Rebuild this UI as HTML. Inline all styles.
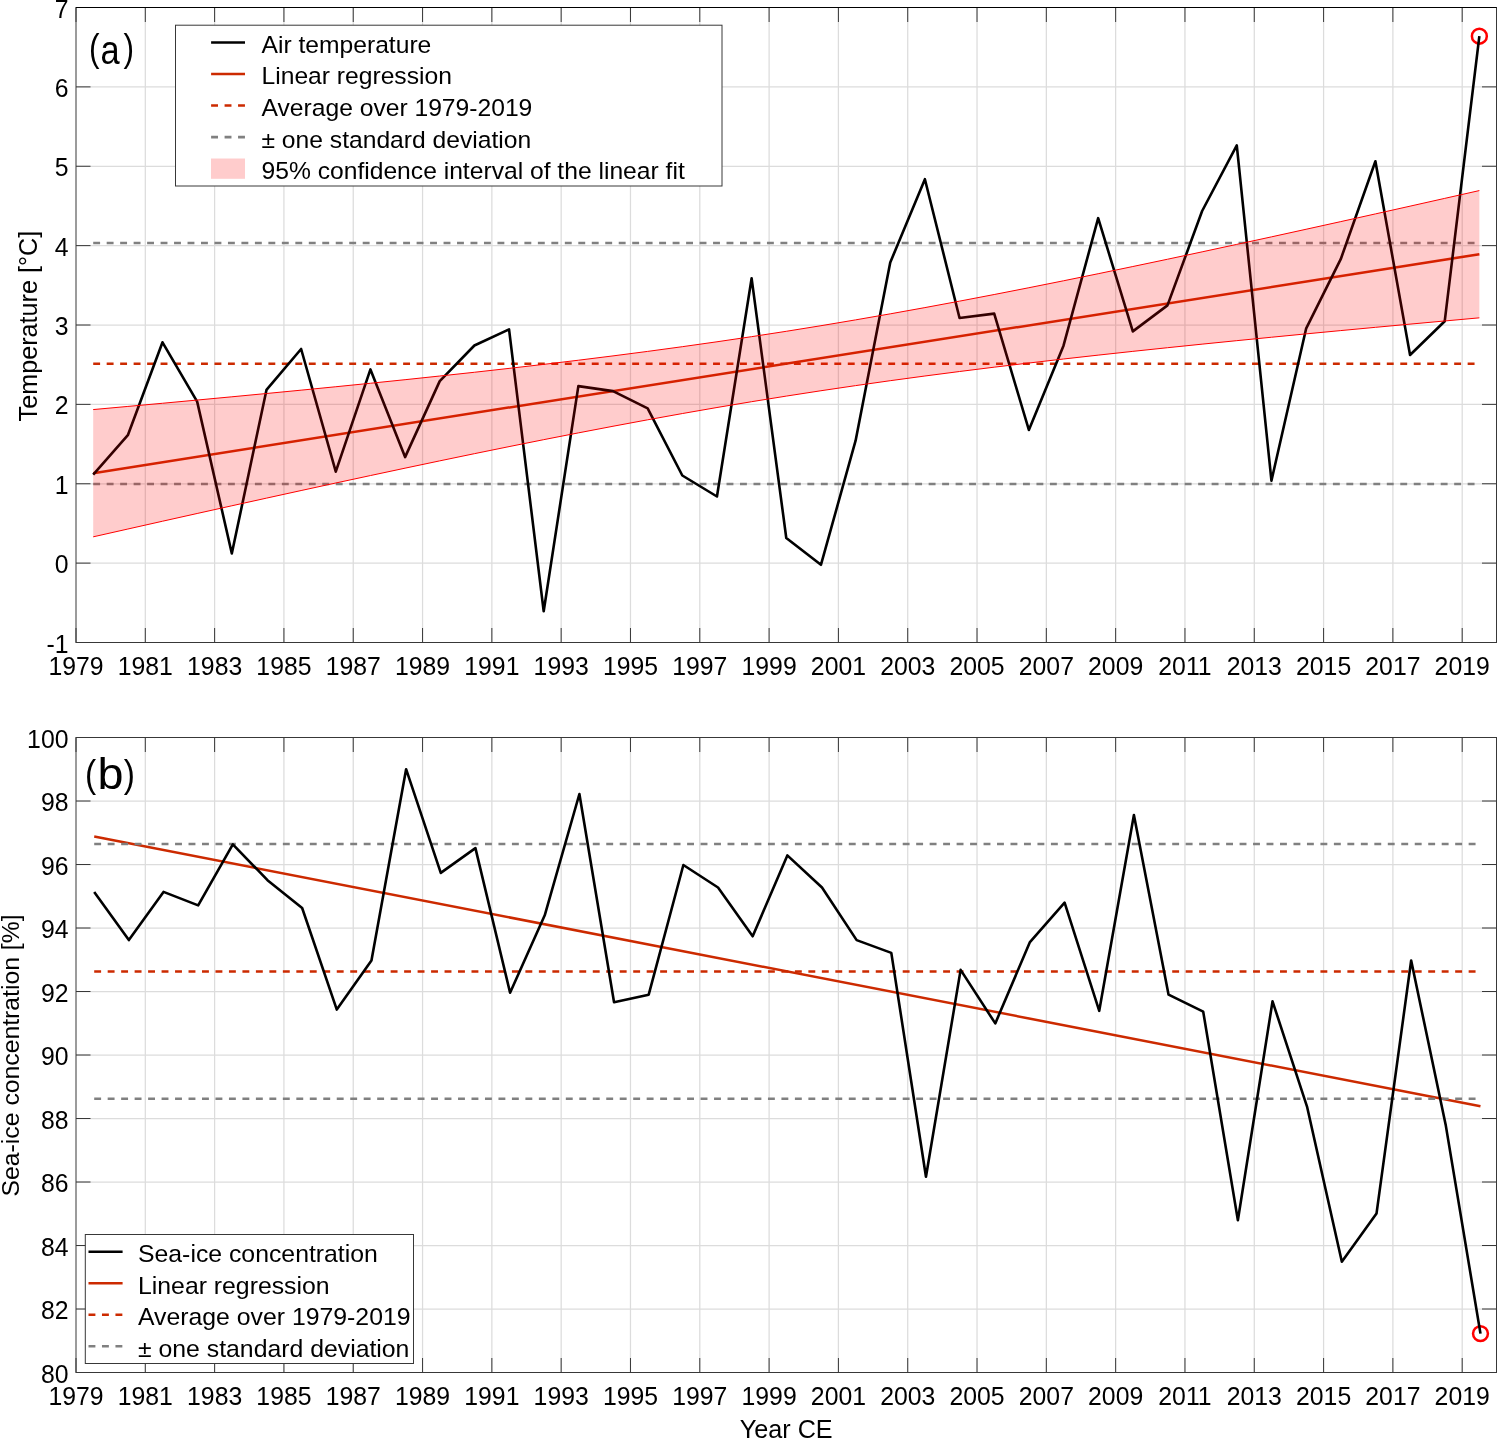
<!DOCTYPE html>
<html><head><meta charset="utf-8"><style>
html,body{margin:0;padding:0;background:#fff;}
svg{display:block;will-change:transform;}
</style></head><body>
<svg width="1497" height="1438" viewBox="0 0 1497 1438">
<rect width="1497" height="1438" fill="#fff"/>
<line x1="145.31" y1="7.5" x2="145.31" y2="642.5" stroke="#dcdcdc" stroke-width="1.25"/>
<line x1="214.62" y1="7.5" x2="214.62" y2="642.5" stroke="#dcdcdc" stroke-width="1.25"/>
<line x1="283.93" y1="7.5" x2="283.93" y2="642.5" stroke="#dcdcdc" stroke-width="1.25"/>
<line x1="353.24" y1="7.5" x2="353.24" y2="642.5" stroke="#dcdcdc" stroke-width="1.25"/>
<line x1="422.55" y1="7.5" x2="422.55" y2="642.5" stroke="#dcdcdc" stroke-width="1.25"/>
<line x1="491.86" y1="7.5" x2="491.86" y2="642.5" stroke="#dcdcdc" stroke-width="1.25"/>
<line x1="561.17" y1="7.5" x2="561.17" y2="642.5" stroke="#dcdcdc" stroke-width="1.25"/>
<line x1="630.48" y1="7.5" x2="630.48" y2="642.5" stroke="#dcdcdc" stroke-width="1.25"/>
<line x1="699.79" y1="7.5" x2="699.79" y2="642.5" stroke="#dcdcdc" stroke-width="1.25"/>
<line x1="769.10" y1="7.5" x2="769.10" y2="642.5" stroke="#dcdcdc" stroke-width="1.25"/>
<line x1="838.41" y1="7.5" x2="838.41" y2="642.5" stroke="#dcdcdc" stroke-width="1.25"/>
<line x1="907.72" y1="7.5" x2="907.72" y2="642.5" stroke="#dcdcdc" stroke-width="1.25"/>
<line x1="977.03" y1="7.5" x2="977.03" y2="642.5" stroke="#dcdcdc" stroke-width="1.25"/>
<line x1="1046.34" y1="7.5" x2="1046.34" y2="642.5" stroke="#dcdcdc" stroke-width="1.25"/>
<line x1="1115.65" y1="7.5" x2="1115.65" y2="642.5" stroke="#dcdcdc" stroke-width="1.25"/>
<line x1="1184.96" y1="7.5" x2="1184.96" y2="642.5" stroke="#dcdcdc" stroke-width="1.25"/>
<line x1="1254.27" y1="7.5" x2="1254.27" y2="642.5" stroke="#dcdcdc" stroke-width="1.25"/>
<line x1="1323.58" y1="7.5" x2="1323.58" y2="642.5" stroke="#dcdcdc" stroke-width="1.25"/>
<line x1="1392.89" y1="7.5" x2="1392.89" y2="642.5" stroke="#dcdcdc" stroke-width="1.25"/>
<line x1="1462.20" y1="7.5" x2="1462.20" y2="642.5" stroke="#dcdcdc" stroke-width="1.25"/>
<line x1="76.0" y1="563.12" x2="1496.5" y2="563.12" stroke="#dcdcdc" stroke-width="1.25"/>
<line x1="76.0" y1="483.75" x2="1496.5" y2="483.75" stroke="#dcdcdc" stroke-width="1.25"/>
<line x1="76.0" y1="404.38" x2="1496.5" y2="404.38" stroke="#dcdcdc" stroke-width="1.25"/>
<line x1="76.0" y1="325.00" x2="1496.5" y2="325.00" stroke="#dcdcdc" stroke-width="1.25"/>
<line x1="76.0" y1="245.62" x2="1496.5" y2="245.62" stroke="#dcdcdc" stroke-width="1.25"/>
<line x1="76.0" y1="166.25" x2="1496.5" y2="166.25" stroke="#dcdcdc" stroke-width="1.25"/>
<line x1="76.0" y1="86.88" x2="1496.5" y2="86.88" stroke="#dcdcdc" stroke-width="1.25"/>
<circle cx="1479.36" cy="36.2" r="7.45" fill="none" stroke="#ff0000" stroke-width="2.5"/>
<line x1="93.20" y1="473.2" x2="1479.36" y2="254.2" stroke="#cc2a00" stroke-width="2.5"/>
<line x1="93.20" y1="363.7" x2="1479.36" y2="363.7" stroke="#cc2a00" stroke-width="2.5" stroke-dasharray="6.9 6.575"/>
<line x1="93.20" y1="242.9" x2="1479.36" y2="242.9" stroke="#808080" stroke-width="2.5" stroke-dasharray="6.9 6.575"/>
<line x1="93.20" y1="484.1" x2="1479.36" y2="484.1" stroke="#808080" stroke-width="2.5" stroke-dasharray="6.9 6.575"/>
<polyline points="93.20,474.60 127.85,435.20 162.51,342.30 197.16,401.60 231.82,553.50 266.47,389.90 301.12,349.00 335.78,471.70 370.43,369.40 405.09,457.10 439.74,381.10 474.39,345.50 509.05,329.40 543.70,611.30 578.36,386.10 613.01,391.10 647.66,408.30 682.32,475.50 716.97,496.50 751.63,278.30 786.28,538.00 820.93,564.80 855.59,440.70 890.24,262.50 924.90,179.20 959.55,318.00 994.20,313.60 1028.86,429.90 1063.51,345.70 1098.17,218.20 1132.82,331.40 1167.47,305.40 1202.13,211.00 1236.78,145.30 1271.44,480.70 1306.09,328.70 1340.74,259.20 1375.40,161.30 1410.05,355.00 1444.71,321.30 1479.36,36.20" fill="none" stroke="#000" stroke-width="2.6" stroke-linejoin="round"/>
<path d="M93.20,409.57 L127.85,406.43 L162.51,403.27 L197.16,400.06 L231.82,396.81 L266.47,393.51 L301.12,390.16 L335.78,386.74 L370.43,383.25 L405.09,379.69 L439.74,376.03 L474.39,372.27 L509.05,368.39 L543.70,364.38 L578.36,360.22 L613.01,355.90 L647.66,351.40 L682.32,346.70 L716.97,341.79 L751.63,336.66 L786.28,331.30 L820.93,325.71 L855.59,319.89 L890.24,313.85 L924.90,307.60 L959.55,301.15 L994.20,294.52 L1028.86,287.73 L1063.51,280.79 L1098.17,273.72 L1132.82,266.53 L1167.47,259.24 L1202.13,251.85 L1236.78,244.39 L1271.44,236.86 L1306.09,229.26 L1340.74,221.61 L1375.40,213.91 L1410.05,206.17 L1444.71,198.38 L1479.36,190.57 L1479.36,317.83 L1444.71,320.97 L1410.05,324.13 L1375.40,327.34 L1340.74,330.59 L1306.09,333.89 L1271.44,337.24 L1236.78,340.66 L1202.13,344.15 L1167.47,347.71 L1132.82,351.37 L1098.17,355.13 L1063.51,359.01 L1028.86,363.02 L994.20,367.18 L959.55,371.50 L924.90,376.00 L890.24,380.70 L855.59,385.61 L820.93,390.74 L786.28,396.10 L751.63,401.69 L716.97,407.51 L682.32,413.55 L647.66,419.80 L613.01,426.25 L578.36,432.88 L543.70,439.67 L509.05,446.61 L474.39,453.68 L439.74,460.87 L405.09,468.16 L370.43,475.55 L335.78,483.01 L301.12,490.54 L266.47,498.14 L231.82,505.79 L197.16,513.49 L162.51,521.23 L127.85,529.02 L93.20,536.83 Z" fill="#ff0000" fill-opacity="0.2" stroke="none"/>
<polyline points="93.20,409.57 127.85,406.43 162.51,403.27 197.16,400.06 231.82,396.81 266.47,393.51 301.12,390.16 335.78,386.74 370.43,383.25 405.09,379.69 439.74,376.03 474.39,372.27 509.05,368.39 543.70,364.38 578.36,360.22 613.01,355.90 647.66,351.40 682.32,346.70 716.97,341.79 751.63,336.66 786.28,331.30 820.93,325.71 855.59,319.89 890.24,313.85 924.90,307.60 959.55,301.15 994.20,294.52 1028.86,287.73 1063.51,280.79 1098.17,273.72 1132.82,266.53 1167.47,259.24 1202.13,251.85 1236.78,244.39 1271.44,236.86 1306.09,229.26 1340.74,221.61 1375.40,213.91 1410.05,206.17 1444.71,198.38 1479.36,190.57" fill="none" stroke="#ff0000" stroke-width="1"/>
<polyline points="93.20,536.83 127.85,529.02 162.51,521.23 197.16,513.49 231.82,505.79 266.47,498.14 301.12,490.54 335.78,483.01 370.43,475.55 405.09,468.16 439.74,460.87 474.39,453.68 509.05,446.61 543.70,439.67 578.36,432.88 613.01,426.25 647.66,419.80 682.32,413.55 716.97,407.51 751.63,401.69 786.28,396.10 820.93,390.74 855.59,385.61 890.24,380.70 924.90,376.00 959.55,371.50 994.20,367.18 1028.86,363.02 1063.51,359.01 1098.17,355.13 1132.82,351.37 1167.47,347.71 1202.13,344.15 1236.78,340.66 1271.44,337.24 1306.09,333.89 1340.74,330.59 1375.40,327.34 1410.05,324.13 1444.71,320.97 1479.36,317.83" fill="none" stroke="#ff0000" stroke-width="1"/>
<rect x="76.0" y="7.5" width="1420.5" height="635.0" fill="none" stroke="#383838" stroke-width="1"/>
<line x1="76.00" y1="642.5" x2="76.00" y2="628.0" stroke="#383838" stroke-width="1"/>
<line x1="76.00" y1="7.5" x2="76.00" y2="22.0" stroke="#383838" stroke-width="1"/>
<text transform="translate(76.00,675.00) scale(1,1.025)" text-anchor="middle" font-family="Liberation Sans, sans-serif" font-size="24.8">1979</text>
<line x1="145.31" y1="642.5" x2="145.31" y2="628.0" stroke="#383838" stroke-width="1"/>
<line x1="145.31" y1="7.5" x2="145.31" y2="22.0" stroke="#383838" stroke-width="1"/>
<text transform="translate(145.31,675.00) scale(1,1.025)" text-anchor="middle" font-family="Liberation Sans, sans-serif" font-size="24.8">1981</text>
<line x1="214.62" y1="642.5" x2="214.62" y2="628.0" stroke="#383838" stroke-width="1"/>
<line x1="214.62" y1="7.5" x2="214.62" y2="22.0" stroke="#383838" stroke-width="1"/>
<text transform="translate(214.62,675.00) scale(1,1.025)" text-anchor="middle" font-family="Liberation Sans, sans-serif" font-size="24.8">1983</text>
<line x1="283.93" y1="642.5" x2="283.93" y2="628.0" stroke="#383838" stroke-width="1"/>
<line x1="283.93" y1="7.5" x2="283.93" y2="22.0" stroke="#383838" stroke-width="1"/>
<text transform="translate(283.93,675.00) scale(1,1.025)" text-anchor="middle" font-family="Liberation Sans, sans-serif" font-size="24.8">1985</text>
<line x1="353.24" y1="642.5" x2="353.24" y2="628.0" stroke="#383838" stroke-width="1"/>
<line x1="353.24" y1="7.5" x2="353.24" y2="22.0" stroke="#383838" stroke-width="1"/>
<text transform="translate(353.24,675.00) scale(1,1.025)" text-anchor="middle" font-family="Liberation Sans, sans-serif" font-size="24.8">1987</text>
<line x1="422.55" y1="642.5" x2="422.55" y2="628.0" stroke="#383838" stroke-width="1"/>
<line x1="422.55" y1="7.5" x2="422.55" y2="22.0" stroke="#383838" stroke-width="1"/>
<text transform="translate(422.55,675.00) scale(1,1.025)" text-anchor="middle" font-family="Liberation Sans, sans-serif" font-size="24.8">1989</text>
<line x1="491.86" y1="642.5" x2="491.86" y2="628.0" stroke="#383838" stroke-width="1"/>
<line x1="491.86" y1="7.5" x2="491.86" y2="22.0" stroke="#383838" stroke-width="1"/>
<text transform="translate(491.86,675.00) scale(1,1.025)" text-anchor="middle" font-family="Liberation Sans, sans-serif" font-size="24.8">1991</text>
<line x1="561.17" y1="642.5" x2="561.17" y2="628.0" stroke="#383838" stroke-width="1"/>
<line x1="561.17" y1="7.5" x2="561.17" y2="22.0" stroke="#383838" stroke-width="1"/>
<text transform="translate(561.17,675.00) scale(1,1.025)" text-anchor="middle" font-family="Liberation Sans, sans-serif" font-size="24.8">1993</text>
<line x1="630.48" y1="642.5" x2="630.48" y2="628.0" stroke="#383838" stroke-width="1"/>
<line x1="630.48" y1="7.5" x2="630.48" y2="22.0" stroke="#383838" stroke-width="1"/>
<text transform="translate(630.48,675.00) scale(1,1.025)" text-anchor="middle" font-family="Liberation Sans, sans-serif" font-size="24.8">1995</text>
<line x1="699.79" y1="642.5" x2="699.79" y2="628.0" stroke="#383838" stroke-width="1"/>
<line x1="699.79" y1="7.5" x2="699.79" y2="22.0" stroke="#383838" stroke-width="1"/>
<text transform="translate(699.79,675.00) scale(1,1.025)" text-anchor="middle" font-family="Liberation Sans, sans-serif" font-size="24.8">1997</text>
<line x1="769.10" y1="642.5" x2="769.10" y2="628.0" stroke="#383838" stroke-width="1"/>
<line x1="769.10" y1="7.5" x2="769.10" y2="22.0" stroke="#383838" stroke-width="1"/>
<text transform="translate(769.10,675.00) scale(1,1.025)" text-anchor="middle" font-family="Liberation Sans, sans-serif" font-size="24.8">1999</text>
<line x1="838.41" y1="642.5" x2="838.41" y2="628.0" stroke="#383838" stroke-width="1"/>
<line x1="838.41" y1="7.5" x2="838.41" y2="22.0" stroke="#383838" stroke-width="1"/>
<text transform="translate(838.41,675.00) scale(1,1.025)" text-anchor="middle" font-family="Liberation Sans, sans-serif" font-size="24.8">2001</text>
<line x1="907.72" y1="642.5" x2="907.72" y2="628.0" stroke="#383838" stroke-width="1"/>
<line x1="907.72" y1="7.5" x2="907.72" y2="22.0" stroke="#383838" stroke-width="1"/>
<text transform="translate(907.72,675.00) scale(1,1.025)" text-anchor="middle" font-family="Liberation Sans, sans-serif" font-size="24.8">2003</text>
<line x1="977.03" y1="642.5" x2="977.03" y2="628.0" stroke="#383838" stroke-width="1"/>
<line x1="977.03" y1="7.5" x2="977.03" y2="22.0" stroke="#383838" stroke-width="1"/>
<text transform="translate(977.03,675.00) scale(1,1.025)" text-anchor="middle" font-family="Liberation Sans, sans-serif" font-size="24.8">2005</text>
<line x1="1046.34" y1="642.5" x2="1046.34" y2="628.0" stroke="#383838" stroke-width="1"/>
<line x1="1046.34" y1="7.5" x2="1046.34" y2="22.0" stroke="#383838" stroke-width="1"/>
<text transform="translate(1046.34,675.00) scale(1,1.025)" text-anchor="middle" font-family="Liberation Sans, sans-serif" font-size="24.8">2007</text>
<line x1="1115.65" y1="642.5" x2="1115.65" y2="628.0" stroke="#383838" stroke-width="1"/>
<line x1="1115.65" y1="7.5" x2="1115.65" y2="22.0" stroke="#383838" stroke-width="1"/>
<text transform="translate(1115.65,675.00) scale(1,1.025)" text-anchor="middle" font-family="Liberation Sans, sans-serif" font-size="24.8">2009</text>
<line x1="1184.96" y1="642.5" x2="1184.96" y2="628.0" stroke="#383838" stroke-width="1"/>
<line x1="1184.96" y1="7.5" x2="1184.96" y2="22.0" stroke="#383838" stroke-width="1"/>
<text transform="translate(1184.96,675.00) scale(1,1.025)" text-anchor="middle" font-family="Liberation Sans, sans-serif" font-size="24.8">2011</text>
<line x1="1254.27" y1="642.5" x2="1254.27" y2="628.0" stroke="#383838" stroke-width="1"/>
<line x1="1254.27" y1="7.5" x2="1254.27" y2="22.0" stroke="#383838" stroke-width="1"/>
<text transform="translate(1254.27,675.00) scale(1,1.025)" text-anchor="middle" font-family="Liberation Sans, sans-serif" font-size="24.8">2013</text>
<line x1="1323.58" y1="642.5" x2="1323.58" y2="628.0" stroke="#383838" stroke-width="1"/>
<line x1="1323.58" y1="7.5" x2="1323.58" y2="22.0" stroke="#383838" stroke-width="1"/>
<text transform="translate(1323.58,675.00) scale(1,1.025)" text-anchor="middle" font-family="Liberation Sans, sans-serif" font-size="24.8">2015</text>
<line x1="1392.89" y1="642.5" x2="1392.89" y2="628.0" stroke="#383838" stroke-width="1"/>
<line x1="1392.89" y1="7.5" x2="1392.89" y2="22.0" stroke="#383838" stroke-width="1"/>
<text transform="translate(1392.89,675.00) scale(1,1.025)" text-anchor="middle" font-family="Liberation Sans, sans-serif" font-size="24.8">2017</text>
<line x1="1462.20" y1="642.5" x2="1462.20" y2="628.0" stroke="#383838" stroke-width="1"/>
<line x1="1462.20" y1="7.5" x2="1462.20" y2="22.0" stroke="#383838" stroke-width="1"/>
<text transform="translate(1462.20,675.00) scale(1,1.025)" text-anchor="middle" font-family="Liberation Sans, sans-serif" font-size="24.8">2019</text>
<line x1="76.0" y1="642.50" x2="90.5" y2="642.50" stroke="#383838" stroke-width="1"/>
<line x1="1496.5" y1="642.50" x2="1482.0" y2="642.50" stroke="#383838" stroke-width="1"/>
<text transform="translate(68.5,652.50) scale(1,1.025)" text-anchor="end" font-family="Liberation Sans, sans-serif" font-size="24.8">-1</text>
<line x1="76.0" y1="563.12" x2="90.5" y2="563.12" stroke="#383838" stroke-width="1"/>
<line x1="1496.5" y1="563.12" x2="1482.0" y2="563.12" stroke="#383838" stroke-width="1"/>
<text transform="translate(68.5,573.12) scale(1,1.025)" text-anchor="end" font-family="Liberation Sans, sans-serif" font-size="24.8">0</text>
<line x1="76.0" y1="483.75" x2="90.5" y2="483.75" stroke="#383838" stroke-width="1"/>
<line x1="1496.5" y1="483.75" x2="1482.0" y2="483.75" stroke="#383838" stroke-width="1"/>
<text transform="translate(68.5,493.75) scale(1,1.025)" text-anchor="end" font-family="Liberation Sans, sans-serif" font-size="24.8">1</text>
<line x1="76.0" y1="404.38" x2="90.5" y2="404.38" stroke="#383838" stroke-width="1"/>
<line x1="1496.5" y1="404.38" x2="1482.0" y2="404.38" stroke="#383838" stroke-width="1"/>
<text transform="translate(68.5,414.38) scale(1,1.025)" text-anchor="end" font-family="Liberation Sans, sans-serif" font-size="24.8">2</text>
<line x1="76.0" y1="325.00" x2="90.5" y2="325.00" stroke="#383838" stroke-width="1"/>
<line x1="1496.5" y1="325.00" x2="1482.0" y2="325.00" stroke="#383838" stroke-width="1"/>
<text transform="translate(68.5,335.00) scale(1,1.025)" text-anchor="end" font-family="Liberation Sans, sans-serif" font-size="24.8">3</text>
<line x1="76.0" y1="245.62" x2="90.5" y2="245.62" stroke="#383838" stroke-width="1"/>
<line x1="1496.5" y1="245.62" x2="1482.0" y2="245.62" stroke="#383838" stroke-width="1"/>
<text transform="translate(68.5,255.62) scale(1,1.025)" text-anchor="end" font-family="Liberation Sans, sans-serif" font-size="24.8">4</text>
<line x1="76.0" y1="166.25" x2="90.5" y2="166.25" stroke="#383838" stroke-width="1"/>
<line x1="1496.5" y1="166.25" x2="1482.0" y2="166.25" stroke="#383838" stroke-width="1"/>
<text transform="translate(68.5,176.25) scale(1,1.025)" text-anchor="end" font-family="Liberation Sans, sans-serif" font-size="24.8">5</text>
<line x1="76.0" y1="86.88" x2="90.5" y2="86.88" stroke="#383838" stroke-width="1"/>
<line x1="1496.5" y1="86.88" x2="1482.0" y2="86.88" stroke="#383838" stroke-width="1"/>
<text transform="translate(68.5,96.88) scale(1,1.025)" text-anchor="end" font-family="Liberation Sans, sans-serif" font-size="24.8">6</text>
<line x1="76.0" y1="7.50" x2="90.5" y2="7.50" stroke="#383838" stroke-width="1"/>
<line x1="1496.5" y1="7.50" x2="1482.0" y2="7.50" stroke="#383838" stroke-width="1"/>
<text transform="translate(68.5,17.50) scale(1,1.025)" text-anchor="end" font-family="Liberation Sans, sans-serif" font-size="24.8">7</text>
<line x1="145.31" y1="737.5" x2="145.31" y2="1372.5" stroke="#dcdcdc" stroke-width="1.25"/>
<line x1="214.62" y1="737.5" x2="214.62" y2="1372.5" stroke="#dcdcdc" stroke-width="1.25"/>
<line x1="283.93" y1="737.5" x2="283.93" y2="1372.5" stroke="#dcdcdc" stroke-width="1.25"/>
<line x1="353.24" y1="737.5" x2="353.24" y2="1372.5" stroke="#dcdcdc" stroke-width="1.25"/>
<line x1="422.55" y1="737.5" x2="422.55" y2="1372.5" stroke="#dcdcdc" stroke-width="1.25"/>
<line x1="491.86" y1="737.5" x2="491.86" y2="1372.5" stroke="#dcdcdc" stroke-width="1.25"/>
<line x1="561.17" y1="737.5" x2="561.17" y2="1372.5" stroke="#dcdcdc" stroke-width="1.25"/>
<line x1="630.48" y1="737.5" x2="630.48" y2="1372.5" stroke="#dcdcdc" stroke-width="1.25"/>
<line x1="699.79" y1="737.5" x2="699.79" y2="1372.5" stroke="#dcdcdc" stroke-width="1.25"/>
<line x1="769.10" y1="737.5" x2="769.10" y2="1372.5" stroke="#dcdcdc" stroke-width="1.25"/>
<line x1="838.41" y1="737.5" x2="838.41" y2="1372.5" stroke="#dcdcdc" stroke-width="1.25"/>
<line x1="907.72" y1="737.5" x2="907.72" y2="1372.5" stroke="#dcdcdc" stroke-width="1.25"/>
<line x1="977.03" y1="737.5" x2="977.03" y2="1372.5" stroke="#dcdcdc" stroke-width="1.25"/>
<line x1="1046.34" y1="737.5" x2="1046.34" y2="1372.5" stroke="#dcdcdc" stroke-width="1.25"/>
<line x1="1115.65" y1="737.5" x2="1115.65" y2="1372.5" stroke="#dcdcdc" stroke-width="1.25"/>
<line x1="1184.96" y1="737.5" x2="1184.96" y2="1372.5" stroke="#dcdcdc" stroke-width="1.25"/>
<line x1="1254.27" y1="737.5" x2="1254.27" y2="1372.5" stroke="#dcdcdc" stroke-width="1.25"/>
<line x1="1323.58" y1="737.5" x2="1323.58" y2="1372.5" stroke="#dcdcdc" stroke-width="1.25"/>
<line x1="1392.89" y1="737.5" x2="1392.89" y2="1372.5" stroke="#dcdcdc" stroke-width="1.25"/>
<line x1="1462.20" y1="737.5" x2="1462.20" y2="1372.5" stroke="#dcdcdc" stroke-width="1.25"/>
<line x1="76.0" y1="1309.00" x2="1496.5" y2="1309.00" stroke="#dcdcdc" stroke-width="1.25"/>
<line x1="76.0" y1="1245.50" x2="1496.5" y2="1245.50" stroke="#dcdcdc" stroke-width="1.25"/>
<line x1="76.0" y1="1182.00" x2="1496.5" y2="1182.00" stroke="#dcdcdc" stroke-width="1.25"/>
<line x1="76.0" y1="1118.50" x2="1496.5" y2="1118.50" stroke="#dcdcdc" stroke-width="1.25"/>
<line x1="76.0" y1="1055.00" x2="1496.5" y2="1055.00" stroke="#dcdcdc" stroke-width="1.25"/>
<line x1="76.0" y1="991.50" x2="1496.5" y2="991.50" stroke="#dcdcdc" stroke-width="1.25"/>
<line x1="76.0" y1="928.00" x2="1496.5" y2="928.00" stroke="#dcdcdc" stroke-width="1.25"/>
<line x1="76.0" y1="864.50" x2="1496.5" y2="864.50" stroke="#dcdcdc" stroke-width="1.25"/>
<line x1="76.0" y1="801.00" x2="1496.5" y2="801.00" stroke="#dcdcdc" stroke-width="1.25"/>
<circle cx="1480.48" cy="1333.6" r="7.45" fill="none" stroke="#ff0000" stroke-width="2.5"/>
<line x1="94.20" y1="836.6" x2="1480.48" y2="1106.3" stroke="#cc2a00" stroke-width="2.5"/>
<line x1="94.20" y1="971.4" x2="1480.48" y2="971.4" stroke="#cc2a00" stroke-width="2.5" stroke-dasharray="6.9 6.575"/>
<line x1="94.20" y1="844.0" x2="1480.48" y2="844.0" stroke="#808080" stroke-width="2.5" stroke-dasharray="6.9 6.575"/>
<line x1="94.20" y1="1098.7" x2="1480.48" y2="1098.7" stroke="#808080" stroke-width="2.5" stroke-dasharray="6.9 6.575"/>
<polyline points="94.20,891.90 128.86,940.10 163.51,891.90 198.17,905.40 232.83,844.30 267.48,880.20 302.14,908.00 336.80,1009.60 371.46,960.60 406.11,769.20 440.77,872.90 475.43,848.10 510.08,992.70 544.74,915.30 579.40,794.00 614.05,1002.30 648.71,994.70 683.37,865.00 718.03,887.50 752.68,936.30 787.34,855.40 822.00,887.50 856.65,940.10 891.31,952.90 925.97,1176.70 960.62,969.90 995.28,1023.40 1029.94,942.10 1064.60,902.70 1099.25,1010.80 1133.91,815.10 1168.57,994.70 1203.22,1011.70 1237.88,1220.20 1272.54,1001.30 1307.19,1107.20 1341.85,1261.70 1376.51,1213.60 1411.17,960.50 1445.82,1125.60 1480.48,1333.60" fill="none" stroke="#000" stroke-width="2.6" stroke-linejoin="round"/>
<rect x="76.0" y="737.5" width="1420.5" height="635.0" fill="none" stroke="#383838" stroke-width="1"/>
<line x1="76.00" y1="1372.5" x2="76.00" y2="1358.0" stroke="#383838" stroke-width="1"/>
<line x1="76.00" y1="737.5" x2="76.00" y2="752.0" stroke="#383838" stroke-width="1"/>
<text transform="translate(76.00,1405.00) scale(1,1.025)" text-anchor="middle" font-family="Liberation Sans, sans-serif" font-size="24.8">1979</text>
<line x1="145.31" y1="1372.5" x2="145.31" y2="1358.0" stroke="#383838" stroke-width="1"/>
<line x1="145.31" y1="737.5" x2="145.31" y2="752.0" stroke="#383838" stroke-width="1"/>
<text transform="translate(145.31,1405.00) scale(1,1.025)" text-anchor="middle" font-family="Liberation Sans, sans-serif" font-size="24.8">1981</text>
<line x1="214.62" y1="1372.5" x2="214.62" y2="1358.0" stroke="#383838" stroke-width="1"/>
<line x1="214.62" y1="737.5" x2="214.62" y2="752.0" stroke="#383838" stroke-width="1"/>
<text transform="translate(214.62,1405.00) scale(1,1.025)" text-anchor="middle" font-family="Liberation Sans, sans-serif" font-size="24.8">1983</text>
<line x1="283.93" y1="1372.5" x2="283.93" y2="1358.0" stroke="#383838" stroke-width="1"/>
<line x1="283.93" y1="737.5" x2="283.93" y2="752.0" stroke="#383838" stroke-width="1"/>
<text transform="translate(283.93,1405.00) scale(1,1.025)" text-anchor="middle" font-family="Liberation Sans, sans-serif" font-size="24.8">1985</text>
<line x1="353.24" y1="1372.5" x2="353.24" y2="1358.0" stroke="#383838" stroke-width="1"/>
<line x1="353.24" y1="737.5" x2="353.24" y2="752.0" stroke="#383838" stroke-width="1"/>
<text transform="translate(353.24,1405.00) scale(1,1.025)" text-anchor="middle" font-family="Liberation Sans, sans-serif" font-size="24.8">1987</text>
<line x1="422.55" y1="1372.5" x2="422.55" y2="1358.0" stroke="#383838" stroke-width="1"/>
<line x1="422.55" y1="737.5" x2="422.55" y2="752.0" stroke="#383838" stroke-width="1"/>
<text transform="translate(422.55,1405.00) scale(1,1.025)" text-anchor="middle" font-family="Liberation Sans, sans-serif" font-size="24.8">1989</text>
<line x1="491.86" y1="1372.5" x2="491.86" y2="1358.0" stroke="#383838" stroke-width="1"/>
<line x1="491.86" y1="737.5" x2="491.86" y2="752.0" stroke="#383838" stroke-width="1"/>
<text transform="translate(491.86,1405.00) scale(1,1.025)" text-anchor="middle" font-family="Liberation Sans, sans-serif" font-size="24.8">1991</text>
<line x1="561.17" y1="1372.5" x2="561.17" y2="1358.0" stroke="#383838" stroke-width="1"/>
<line x1="561.17" y1="737.5" x2="561.17" y2="752.0" stroke="#383838" stroke-width="1"/>
<text transform="translate(561.17,1405.00) scale(1,1.025)" text-anchor="middle" font-family="Liberation Sans, sans-serif" font-size="24.8">1993</text>
<line x1="630.48" y1="1372.5" x2="630.48" y2="1358.0" stroke="#383838" stroke-width="1"/>
<line x1="630.48" y1="737.5" x2="630.48" y2="752.0" stroke="#383838" stroke-width="1"/>
<text transform="translate(630.48,1405.00) scale(1,1.025)" text-anchor="middle" font-family="Liberation Sans, sans-serif" font-size="24.8">1995</text>
<line x1="699.79" y1="1372.5" x2="699.79" y2="1358.0" stroke="#383838" stroke-width="1"/>
<line x1="699.79" y1="737.5" x2="699.79" y2="752.0" stroke="#383838" stroke-width="1"/>
<text transform="translate(699.79,1405.00) scale(1,1.025)" text-anchor="middle" font-family="Liberation Sans, sans-serif" font-size="24.8">1997</text>
<line x1="769.10" y1="1372.5" x2="769.10" y2="1358.0" stroke="#383838" stroke-width="1"/>
<line x1="769.10" y1="737.5" x2="769.10" y2="752.0" stroke="#383838" stroke-width="1"/>
<text transform="translate(769.10,1405.00) scale(1,1.025)" text-anchor="middle" font-family="Liberation Sans, sans-serif" font-size="24.8">1999</text>
<line x1="838.41" y1="1372.5" x2="838.41" y2="1358.0" stroke="#383838" stroke-width="1"/>
<line x1="838.41" y1="737.5" x2="838.41" y2="752.0" stroke="#383838" stroke-width="1"/>
<text transform="translate(838.41,1405.00) scale(1,1.025)" text-anchor="middle" font-family="Liberation Sans, sans-serif" font-size="24.8">2001</text>
<line x1="907.72" y1="1372.5" x2="907.72" y2="1358.0" stroke="#383838" stroke-width="1"/>
<line x1="907.72" y1="737.5" x2="907.72" y2="752.0" stroke="#383838" stroke-width="1"/>
<text transform="translate(907.72,1405.00) scale(1,1.025)" text-anchor="middle" font-family="Liberation Sans, sans-serif" font-size="24.8">2003</text>
<line x1="977.03" y1="1372.5" x2="977.03" y2="1358.0" stroke="#383838" stroke-width="1"/>
<line x1="977.03" y1="737.5" x2="977.03" y2="752.0" stroke="#383838" stroke-width="1"/>
<text transform="translate(977.03,1405.00) scale(1,1.025)" text-anchor="middle" font-family="Liberation Sans, sans-serif" font-size="24.8">2005</text>
<line x1="1046.34" y1="1372.5" x2="1046.34" y2="1358.0" stroke="#383838" stroke-width="1"/>
<line x1="1046.34" y1="737.5" x2="1046.34" y2="752.0" stroke="#383838" stroke-width="1"/>
<text transform="translate(1046.34,1405.00) scale(1,1.025)" text-anchor="middle" font-family="Liberation Sans, sans-serif" font-size="24.8">2007</text>
<line x1="1115.65" y1="1372.5" x2="1115.65" y2="1358.0" stroke="#383838" stroke-width="1"/>
<line x1="1115.65" y1="737.5" x2="1115.65" y2="752.0" stroke="#383838" stroke-width="1"/>
<text transform="translate(1115.65,1405.00) scale(1,1.025)" text-anchor="middle" font-family="Liberation Sans, sans-serif" font-size="24.8">2009</text>
<line x1="1184.96" y1="1372.5" x2="1184.96" y2="1358.0" stroke="#383838" stroke-width="1"/>
<line x1="1184.96" y1="737.5" x2="1184.96" y2="752.0" stroke="#383838" stroke-width="1"/>
<text transform="translate(1184.96,1405.00) scale(1,1.025)" text-anchor="middle" font-family="Liberation Sans, sans-serif" font-size="24.8">2011</text>
<line x1="1254.27" y1="1372.5" x2="1254.27" y2="1358.0" stroke="#383838" stroke-width="1"/>
<line x1="1254.27" y1="737.5" x2="1254.27" y2="752.0" stroke="#383838" stroke-width="1"/>
<text transform="translate(1254.27,1405.00) scale(1,1.025)" text-anchor="middle" font-family="Liberation Sans, sans-serif" font-size="24.8">2013</text>
<line x1="1323.58" y1="1372.5" x2="1323.58" y2="1358.0" stroke="#383838" stroke-width="1"/>
<line x1="1323.58" y1="737.5" x2="1323.58" y2="752.0" stroke="#383838" stroke-width="1"/>
<text transform="translate(1323.58,1405.00) scale(1,1.025)" text-anchor="middle" font-family="Liberation Sans, sans-serif" font-size="24.8">2015</text>
<line x1="1392.89" y1="1372.5" x2="1392.89" y2="1358.0" stroke="#383838" stroke-width="1"/>
<line x1="1392.89" y1="737.5" x2="1392.89" y2="752.0" stroke="#383838" stroke-width="1"/>
<text transform="translate(1392.89,1405.00) scale(1,1.025)" text-anchor="middle" font-family="Liberation Sans, sans-serif" font-size="24.8">2017</text>
<line x1="1462.20" y1="1372.5" x2="1462.20" y2="1358.0" stroke="#383838" stroke-width="1"/>
<line x1="1462.20" y1="737.5" x2="1462.20" y2="752.0" stroke="#383838" stroke-width="1"/>
<text transform="translate(1462.20,1405.00) scale(1,1.025)" text-anchor="middle" font-family="Liberation Sans, sans-serif" font-size="24.8">2019</text>
<line x1="76.0" y1="1372.50" x2="90.5" y2="1372.50" stroke="#383838" stroke-width="1"/>
<line x1="1496.5" y1="1372.50" x2="1482.0" y2="1372.50" stroke="#383838" stroke-width="1"/>
<text transform="translate(68.5,1382.50) scale(1,1.025)" text-anchor="end" font-family="Liberation Sans, sans-serif" font-size="24.8">80</text>
<line x1="76.0" y1="1309.00" x2="90.5" y2="1309.00" stroke="#383838" stroke-width="1"/>
<line x1="1496.5" y1="1309.00" x2="1482.0" y2="1309.00" stroke="#383838" stroke-width="1"/>
<text transform="translate(68.5,1319.00) scale(1,1.025)" text-anchor="end" font-family="Liberation Sans, sans-serif" font-size="24.8">82</text>
<line x1="76.0" y1="1245.50" x2="90.5" y2="1245.50" stroke="#383838" stroke-width="1"/>
<line x1="1496.5" y1="1245.50" x2="1482.0" y2="1245.50" stroke="#383838" stroke-width="1"/>
<text transform="translate(68.5,1255.50) scale(1,1.025)" text-anchor="end" font-family="Liberation Sans, sans-serif" font-size="24.8">84</text>
<line x1="76.0" y1="1182.00" x2="90.5" y2="1182.00" stroke="#383838" stroke-width="1"/>
<line x1="1496.5" y1="1182.00" x2="1482.0" y2="1182.00" stroke="#383838" stroke-width="1"/>
<text transform="translate(68.5,1192.00) scale(1,1.025)" text-anchor="end" font-family="Liberation Sans, sans-serif" font-size="24.8">86</text>
<line x1="76.0" y1="1118.50" x2="90.5" y2="1118.50" stroke="#383838" stroke-width="1"/>
<line x1="1496.5" y1="1118.50" x2="1482.0" y2="1118.50" stroke="#383838" stroke-width="1"/>
<text transform="translate(68.5,1128.50) scale(1,1.025)" text-anchor="end" font-family="Liberation Sans, sans-serif" font-size="24.8">88</text>
<line x1="76.0" y1="1055.00" x2="90.5" y2="1055.00" stroke="#383838" stroke-width="1"/>
<line x1="1496.5" y1="1055.00" x2="1482.0" y2="1055.00" stroke="#383838" stroke-width="1"/>
<text transform="translate(68.5,1065.00) scale(1,1.025)" text-anchor="end" font-family="Liberation Sans, sans-serif" font-size="24.8">90</text>
<line x1="76.0" y1="991.50" x2="90.5" y2="991.50" stroke="#383838" stroke-width="1"/>
<line x1="1496.5" y1="991.50" x2="1482.0" y2="991.50" stroke="#383838" stroke-width="1"/>
<text transform="translate(68.5,1001.50) scale(1,1.025)" text-anchor="end" font-family="Liberation Sans, sans-serif" font-size="24.8">92</text>
<line x1="76.0" y1="928.00" x2="90.5" y2="928.00" stroke="#383838" stroke-width="1"/>
<line x1="1496.5" y1="928.00" x2="1482.0" y2="928.00" stroke="#383838" stroke-width="1"/>
<text transform="translate(68.5,938.00) scale(1,1.025)" text-anchor="end" font-family="Liberation Sans, sans-serif" font-size="24.8">94</text>
<line x1="76.0" y1="864.50" x2="90.5" y2="864.50" stroke="#383838" stroke-width="1"/>
<line x1="1496.5" y1="864.50" x2="1482.0" y2="864.50" stroke="#383838" stroke-width="1"/>
<text transform="translate(68.5,874.50) scale(1,1.025)" text-anchor="end" font-family="Liberation Sans, sans-serif" font-size="24.8">96</text>
<line x1="76.0" y1="801.00" x2="90.5" y2="801.00" stroke="#383838" stroke-width="1"/>
<line x1="1496.5" y1="801.00" x2="1482.0" y2="801.00" stroke="#383838" stroke-width="1"/>
<text transform="translate(68.5,811.00) scale(1,1.025)" text-anchor="end" font-family="Liberation Sans, sans-serif" font-size="24.8">98</text>
<line x1="76.0" y1="737.50" x2="90.5" y2="737.50" stroke="#383838" stroke-width="1"/>
<line x1="1496.5" y1="737.50" x2="1482.0" y2="737.50" stroke="#383838" stroke-width="1"/>
<text transform="translate(68.5,747.50) scale(1,1.025)" text-anchor="end" font-family="Liberation Sans, sans-serif" font-size="24.8">100</text>
<line x1="76.0" y1="7.5" x2="1496.5" y2="7.5" stroke="#000" stroke-width="1"/>
<text x="786.25" y="1437.8" text-anchor="middle" font-family="Liberation Sans, sans-serif" font-size="25.2">Year CE</text>
<text transform="translate(36.8,326.1) rotate(-90)" text-anchor="middle" font-family="Liberation Sans, sans-serif" font-size="25.2">Temperature [°C]</text>
<text transform="translate(18.5,1055.4) rotate(-90)" text-anchor="middle" font-family="Liberation Sans, sans-serif" font-size="24.75">Sea-ice concentration [%]</text>
<text transform="translate(89.04,60.94) scale(0.804,1)" font-family="Liberation Sans, sans-serif" font-size="39.39">(</text>
<text transform="translate(100.54,63.50) scale(0.835,1)" font-family="Liberation Sans, sans-serif" font-size="41.25">a</text>
<text transform="translate(123.51,60.94) scale(0.804,1)" font-family="Liberation Sans, sans-serif" font-size="39.39">)</text>
<text transform="translate(84.92,786.74) scale(0.852,1)" font-family="Liberation Sans, sans-serif" font-size="39.39">(</text>
<text transform="translate(97.59,789.27) scale(1.055,1)" font-family="Liberation Sans, sans-serif" font-size="44.26">b</text>
<text transform="translate(123.70,786.74) scale(0.852,1)" font-family="Liberation Sans, sans-serif" font-size="39.39">)</text>
<rect x="175.5" y="25.2" width="546.5" height="160.8" fill="#fff" stroke="#383838" stroke-width="1"/>
<line x1="211.1" y1="42.45" x2="245" y2="42.45" stroke="#000" stroke-width="2.6"/>
<text x="261.5" y="52.85" font-family="Liberation Sans, sans-serif" font-size="24.65">Air temperature</text>
<line x1="211.1" y1="74.00" x2="245" y2="74.00" stroke="#cc2a00" stroke-width="2.6"/>
<text x="261.5" y="84.40" font-family="Liberation Sans, sans-serif" font-size="24.65">Linear regression</text>
<line x1="211.1" y1="105.55" x2="245" y2="105.55" stroke="#cc2a00" stroke-width="2.6" stroke-dasharray="6.9 6.575"/>
<text x="261.5" y="115.95" font-family="Liberation Sans, sans-serif" font-size="24.65">Average over 1979-2019</text>
<line x1="211.1" y1="137.10" x2="245" y2="137.10" stroke="#808080" stroke-width="2.6" stroke-dasharray="6.9 6.575"/>
<text x="261.5" y="147.50" font-family="Liberation Sans, sans-serif" font-size="24.65">± one standard deviation</text>
<rect x="211.0" y="158.5" width="34.0" height="20.3" fill="#ff0000" fill-opacity="0.2"/>
<text x="261.5" y="179.05" font-family="Liberation Sans, sans-serif" font-size="24.65">95% confidence interval of the linear fit</text>
<rect x="85.3" y="1234.5" width="328.2" height="129" fill="#fff" stroke="#383838" stroke-width="1"/>
<line x1="88.5" y1="1251.70" x2="122.6" y2="1251.70" stroke="#000" stroke-width="2.6"/>
<text x="138" y="1262.10" font-family="Liberation Sans, sans-serif" font-size="24.8">Sea-ice concentration</text>
<line x1="88.5" y1="1283.20" x2="122.6" y2="1283.20" stroke="#cc2a00" stroke-width="2.6"/>
<text x="138" y="1293.60" font-family="Liberation Sans, sans-serif" font-size="24.8">Linear regression</text>
<line x1="88.5" y1="1314.70" x2="122.6" y2="1314.70" stroke="#cc2a00" stroke-width="2.6" stroke-dasharray="6.9 6.575"/>
<text x="138" y="1325.10" font-family="Liberation Sans, sans-serif" font-size="24.8">Average over 1979-2019</text>
<line x1="88.5" y1="1346.20" x2="122.6" y2="1346.20" stroke="#808080" stroke-width="2.6" stroke-dasharray="6.9 6.575"/>
<text x="138" y="1356.60" font-family="Liberation Sans, sans-serif" font-size="24.8">± one standard deviation</text>
</svg>
</body></html>
